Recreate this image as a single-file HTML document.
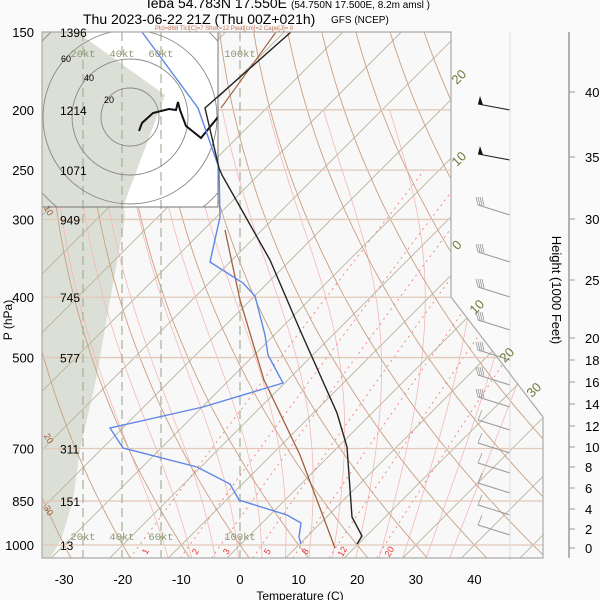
<!DOCTYPE html>
<html><head><meta charset="utf-8">
<style>
html,body{margin:0;padding:0;background:#fff;}
svg{display:block;font-family:"Liberation Sans",sans-serif;}
</style></head>
<body>
<svg id="s" width="600" height="600" viewBox="0 0 600 600" xmlns="http://www.w3.org/2000/svg">
<defs>
<clipPath id="cp"><polygon points="42,32 451,32 451,297 543,417 543,558 42,558"/></clipPath>
<clipPath id="hb"><rect x="42" y="32" width="176" height="175"/></clipPath>
</defs>
<rect x="0" y="0" width="600" height="600" fill="#fafafa"/>
<polygon points="42,32 451,32 451,297 543,417 543,558 42,558" fill="#f8f8f8"/>
<g id="grid" clip-path="url(#cp)"></g>
<g id="prof"></g>
<polygon points="42,32 451,32 451,297 543,417 543,558 42,558" fill="none" stroke="#aaa" stroke-width="1.2"/>
<g id="txt"></g>
</svg>
<script>
var NS="http://www.w3.org/2000/svg";
function el(par,tag,at,txt){var e=document.createElementNS(NS,tag);for(var k in at)e.setAttribute(k,at[k]);if(txt!==undefined)e.textContent=txt;document.getElementById(par)?document.getElementById(par).appendChild(e):par.appendChild(e);return e;}
function Y(p){return 32+270.4*Math.log(p/150);}
function X(T,p){return 240+5.86*T+(545-Y(p));}
function pl(par,pts,st){el(par,'polyline',Object.assign({points:pts.map(function(a){return a[0].toFixed(1)+','+a[1].toFixed(1)}).join(' '),fill:'none'},st));}
var g='grid';
el(g,'polygon',{points:'42,32 110,32 125,219 110,300 96,380 80,450 73,500 61,540 50,558 42,558',fill:'#dcdfd5'});
function es(T){return 6.112*Math.exp(17.67*T/(T+243.5));}
for(var t0=-10;t0<=40;t0+=4){var T=t0,pts=[];for(var p=1050;p>=200;p-=5){pts.push([X(T,p),Y(p)]);var Tk=T+273.15,e=es(T),r=0.622*e/(p-e),L=2.5e6;var dTdp=(287*Tk+L*r)/(p*(1004+L*L*r*0.622/(287*Tk*Tk)));T-=dTdp*5;}pl(g,pts,{stroke:'#f4b8b8','stroke-width':0.8});}
[1,2,3,5,8,12,20].forEach(function(w){var pts=[];for(var p=1050;p>=250;p-=10){var e=w*p/(622+w),l=Math.log(e/6.112),Td=243.5*l/(17.67-l);pts.push([X(Td,p),Y(p)]);}pl(g,pts,{stroke:'#f08080','stroke-width':0.9,'stroke-dasharray':'2,4'});});
for(var T=-130;T<=50;T+=10){pl(g,[[X(T,1050),Y(1050)],[X(T,150),Y(150)]],{stroke:'#b8b49c','stroke-width':0.9});}
for(var th=-40;th<=220;th+=10){var pts=[];for(var p=1050;p>=150;p-=10){var T=(th+273.15)*Math.pow(p/1000,0.2857)-273.15;pts.push([X(T,p),Y(p)]);}pl(g,pts,{stroke:'#c8a080','stroke-width':0.9});}
[150,200,250,300,400,500,700,850,1000].forEach(function(p){el(g,'line',{x1:42,x2:543,y1:Y(p),y2:Y(p),stroke:'#e2c8b6','stroke-width':1.3});});
[[83,'20kt'],[122,'40kt'],[161,'60kt'],[240,'100kt']].forEach(function(a){el(g,'line',{x1:a[0],x2:a[0],y1:32,y2:558,stroke:'#a8b098','stroke-width':1.2,'stroke-dasharray':'9,5'});});
var hb=el(g,'g',{'clip-path':'url(#hb)'});
el(hb,'rect',{x:42,y:32,width:176,height:175,fill:'#fff'});
el(hb,'polygon',{points:'42,32 77,32 165,95 123,207 42,207',fill:'#dcdfd5'});
[[83],[122],[161]].forEach(function(a){el(hb,'line',{x1:a[0],x2:a[0],y1:32,y2:207,stroke:'#a8b098','stroke-width':1.2,'stroke-dasharray':'9,5'});});
[29,58,87,116].forEach(function(r){el(hb,'circle',{cx:130,cy:117,r:r,fill:'none',stroke:'#888','stroke-width':0.9});});
el(hb,'polyline',{points:'139,131 142,123 153,113 169,109 176,110 178,102 180,110 186,126 201,138 218,117',fill:'none',stroke:'#111','stroke-width':2});
el(g,'rect',{x:42,y:32,width:176,height:175,fill:'none',stroke:'#777','stroke-width':1});
pl('prof',[[335,548],[300,455],[264,380],[240,300],[225,230]],{stroke:'#a0603c','stroke-width':1.3});
pl('prof',[[221,108],[276,32]],{stroke:'#a0603c','stroke-width':1.1});
pl('prof',[[301,544],[299,537],[301,523],[287,515],[239,500],[230,484],[197,467],[123,448],[110,428],[203,407],[283,383],[268,355],[265,335],[255,296],[243,283],[210,262],[220,217],[219,168],[198,108],[142,32]],{stroke:'#5f86e8','stroke-width':1.4});
pl('prof',[[357,544],[362,536],[352,517],[347,447],[337,413],[300,330],[270,260],[222,175],[219,168],[205,108],[291,32]],{stroke:'#222','stroke-width':1.4});
var wy=[110,160,215,262,297,330,360,385,407,430,453,473,493,515,535];
wy.forEach(function(y,i){var x0=510,x1=478,y1=y-(i<2?6:10);
 el('prof','line',{x1:x0,y1:y,x2:x1,y2:y1,stroke:i<2?'#222':'#999','stroke-width':1});
 if(i<2){el('prof','polygon',{points:x1+','+y1+' '+(x1+2)+','+(y1-8)+' '+(x1+5)+','+(y1+1),fill:'#111'});}
 else if(i<9){for(var k=0;k<4;k++)el('prof','line',{x1:x1+k*2,y1:y1+k*0.3,x2:x1-2+k*2,y2:y1-8,stroke:'#999','stroke-width':0.8});}
 else {el('prof','line',{x1:x1,y1:y1,x2:x1+4,y2:y1-10,stroke:'#999','stroke-width':0.8});}
});
el('prof','line',{x1:510,x2:510,y1:32,y2:560,stroke:'#ddd','stroke-width':1});
var tx='txt';
function T_(x,y,s,opt){return el(tx,'text',Object.assign({x:x,y:y},opt||{}),s);}
T_(287,8,'Ieba 54.783N 17.550E',{'font-size':14,'text-anchor':'end'});
T_(291,8,'(54.750N 17.500E,   8.2m amsl )',{'font-size':10});
T_(83,24,'Thu 2023-06-22 21Z (Thu 00Z+021h)',{'font-size':14});
T_(331,23,'GFS (NCEP)',{'font-size':10});
T_(155,30,'Plcl=868 Tlcl[C]=7 Shox=12 Pwat[cm]=2 Cape[J]= 0',{'font-size':6,fill:'#c07050'});
[[150,'1396'],[200,'1214'],[250,'1071'],[300,'949'],[400,'745'],[500,'577'],[700,'311'],[850,'151'],[1000,'13']].forEach(function(a){
 T_(34,Y(a[0])+5,a[0],{'font-size':13,'text-anchor':'end'});T_(60,Y(a[0])+5,a[1],{'font-size':12});});
T_(12,320,'P (hPa)',{'font-size':12,transform:'rotate(-90 12 320)','text-anchor':'middle'});
[-30,-20,-10,0,10,20,30,40].forEach(function(t){T_(240+5.86*t,584,t,{'font-size':13,'text-anchor':'middle'});});
T_(300,600,'Temperature (C)',{'font-size':12,'text-anchor':'middle'});
[[83,'20kt'],[122,'40kt'],[161,'60kt'],[240,'100kt']].forEach(function(a){T_(a[0],57,a[1],{'font-size':10.5,fill:'#8a9670','text-anchor':'middle','font-family':'Liberation Mono'});T_(a[0],540,a[1],{'font-size':10.5,fill:'#8a9670','text-anchor':'middle','font-family':'Liberation Mono'});});
[[109,103,'20'],[89,81,'40'],[66,62,'60']].forEach(function(a){T_(a[0],a[1],a[2],{'font-size':9,'text-anchor':'middle'});});
[[1,148],[2,198],[3,229],[5,270],[8,308],[12,345],[20,392]].forEach(function(a){T_(a[1],553,a[0],{'font-size':9,fill:'#f03030','text-anchor':'middle',transform:'rotate(-60 '+a[1]+' 553)'});});
[[462,80,'20'],[462,162,'10'],[460,248,'0'],[480,310,'10'],[510,358,'20'],[537,393,'30']].forEach(function(a){T_(a[0],a[1],a[2],{'font-size':13,fill:'#6a7a3a','text-anchor':'middle',transform:'rotate(-45 '+a[0]+' '+a[1]+')'});});
[[46,212,'10'],[46,440,'20'],[46,512,'30']].forEach(function(a){T_(a[0],a[1],a[2],{'font-size':9,fill:'#a06040','text-anchor':'middle',transform:'rotate(60 '+a[0]+' '+a[1]+')'});});
el(tx,'line',{x1:569,x2:569,y1:32,y2:558,stroke:'#999','stroke-width':1.5});
[[0,548],[2,529],[4,509],[6,488],[8,467],[10,447],[12,426],[14,404],[16,382],[18,360],[20,338],[25,280],[30,219],[35,157],[40,92]].forEach(function(a){
 el(tx,'line',{x1:569,x2:575,y1:a[1],y2:a[1],stroke:'#999','stroke-width':1});T_(585,a[1]+5,a[0],{'font-size':13});});
T_(552,290,'Height (1000 Feet)',{'font-size':13,transform:'rotate(90 552 290)','text-anchor':'middle'});
</script>
</body></html>
